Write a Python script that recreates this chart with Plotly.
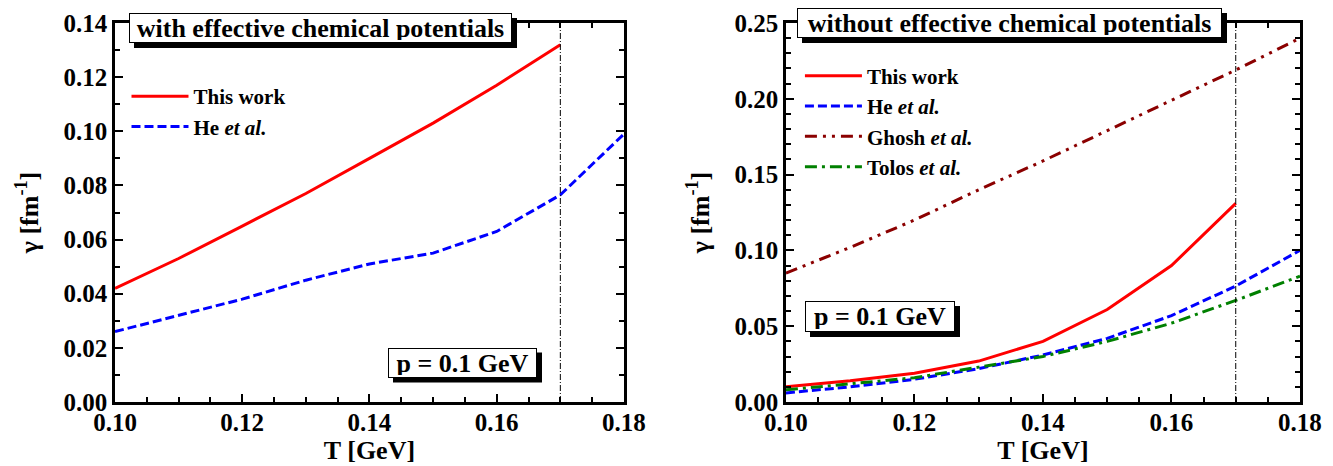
import plotly.graph_objects as go
from plotly.subplots import make_subplots

# ---------------- data ----------------
T_all = [0.10, 0.11, 0.12, 0.13, 0.14, 0.15, 0.16, 0.17, 0.18]
T_this = [0.10, 0.11, 0.12, 0.13, 0.14, 0.15, 0.16, 0.17]
T_C = 0.17

left_this = [0.042, 0.053, 0.065, 0.077, 0.090, 0.103, 0.117, 0.132]
left_he = [0.026, 0.032, 0.038, 0.045, 0.051, 0.055, 0.063, 0.0765, 0.099]

right_this = [0.010, 0.014, 0.019, 0.027, 0.040, 0.061, 0.090, 0.131]
right_he = [0.006, 0.010, 0.015, 0.022, 0.031, 0.042, 0.057, 0.0765, 0.100]
right_ghosh = [0.085, 0.102, 0.120, 0.140, 0.159, 0.179, 0.199, 0.219, 0.240]
right_tolos = [0.008, 0.012, 0.016, 0.023, 0.030, 0.040, 0.052, 0.067, 0.083]

left_title = "with effective chemical potentials"
right_title = "without effective chemical potentials"
p_label = "p = 0.1 GeV"

FONT = "Liberation Serif"
RED = "#ff0000"
BLUE = "#0000ff"
DARKRED = "#8b0000"
GREEN = "#008000"

# plot-area geometry (pixels) used to place the boxed labels
PLOT_L, PLOT_R, PLOT_T, PLOT_B = 115, 1300, 23, 402


def px_x(p):
    return (p - PLOT_L) / (PLOT_R - PLOT_L)


def px_y(p):
    return (PLOT_B - p) / (PLOT_B - PLOT_T)


fig = make_subplots(rows=1, cols=2)

# left panel
fig.add_trace(go.Scatter(x=T_this, y=left_this, mode="lines", name="<b>This work</b>",
                         line=dict(color=RED, width=3), legend="legend"), 1, 1)
fig.add_trace(go.Scatter(x=T_all, y=left_he, mode="lines", name="<b>He <i>et al.</i></b>",
                         line=dict(color=BLUE, width=3, dash="9px,4px"), legend="legend"), 1, 1)
fig.add_trace(go.Scatter(x=[T_C, T_C], y=[0, 0.14], mode="lines", showlegend=False,
                         line=dict(color="black", width=1, dash="6px,2px,1px,2px")), 1, 1)

# right panel
fig.add_trace(go.Scatter(x=T_this, y=right_this, mode="lines", name="<b>This work</b>",
                         line=dict(color=RED, width=3), legend="legend2"), 1, 2)
fig.add_trace(go.Scatter(x=T_all, y=right_he, mode="lines", name="<b>He <i>et al.</i></b>",
                         line=dict(color=BLUE, width=3, dash="9px,4px"), legend="legend2"), 1, 2)
fig.add_trace(go.Scatter(x=T_all, y=right_ghosh, mode="lines", name="<b>Ghosh <i>et al.</i></b>",
                         line=dict(color=DARKRED, width=3, dash="12px,6px,3px,6px,3px,6px"),
                         legend="legend2"), 1, 2)
fig.add_trace(go.Scatter(x=T_all, y=right_tolos, mode="lines", name="<b>Tolos <i>et al.</i></b>",
                         line=dict(color=GREEN, width=3, dash="12px,5px,3px,5px"),
                         legend="legend2"), 1, 2)
fig.add_trace(go.Scatter(x=[T_C, T_C], y=[0, 0.25], mode="lines", showlegend=False,
                         line=dict(color="black", width=1, dash="6px,2px,1px,2px")), 1, 2)

axis_common = dict(
    showline=True, linecolor="black", linewidth=2.5, mirror="allticks",
    ticks="inside", ticklen=8, tickwidth=2, tickcolor="black",
    showgrid=False, zeroline=False, tickformat=".2f",
    tickfont=dict(family=FONT, size=25, color="black", weight="bold"),
)

fig.update_xaxes(**axis_common, range=[0.10, 0.18], dtick=0.02, tick0=0.10, ticklabelstandoff=-4,
                 minor=dict(dtick=0.005, ticks="inside", ticklen=5, tickwidth=2, tickcolor="black"),
                 title=dict(text="<b>T [GeV]</b>", font=dict(family=FONT, size=26, color="black"), standoff=6))
fig.update_yaxes(**axis_common,
                 minor=dict(dtick=0.01, ticks="inside", ticklen=5, tickwidth=2, tickcolor="black"),
                 title=dict(text="<b>γ [fm<sup>-1</sup>]</b>", font=dict(family=FONT, size=26, color="black"), standoff=18))
fig.update_yaxes(range=[0, 0.14], dtick=0.02, tick0=0, row=1, col=1)
fig.update_yaxes(range=[0, 0.25], dtick=0.05, tick0=0, row=1, col=2)

fig.update_layout(
    xaxis=dict(domain=[0, 0.4295]),
    xaxis2=dict(domain=[0.5662, 1.0]),
    yaxis=dict(domain=[0, 1]),
    yaxis2=dict(domain=[0, 1]),
)

legend_common = dict(font=dict(family=FONT, size=21, color="black"), bgcolor="rgba(0,0,0,0)",
                     borderwidth=0, itemwidth=57, tracegroupgap=0, xanchor="left", yanchor="top")
fig.update_layout(
    legend=dict(**legend_common, x=0.0097, y=0.86, xref="paper", yref="paper"),
    legend2=dict(**legend_common, x=0.578, y=0.914, xref="paper", yref="paper"),
)

PAD, BORDER, SHADOW = 2, 1, 5


def boxed(cx, cy, text, size, w, h):
    # cx, cy: box centre in pixels; w, h: inner text-box size in pixels
    W = w + 2 * (PAD + BORDER)
    H = h + 2 * (PAD + BORDER)
    # drop shadow
    fig.add_shape(type="rect", xref="paper", yref="paper", layer="above",
                  x0=px_x(cx - W / 2 + SHADOW), x1=px_x(cx + W / 2 + SHADOW),
                  y0=px_y(cy + H / 2 + SHADOW), y1=px_y(cy - H / 2 + SHADOW),
                  fillcolor="black", line=dict(width=0))
    fig.add_annotation(x=px_x(cx), y=px_y(cy), xref="paper", yref="paper", text="<b>%s</b>" % text,
                       showarrow=False, xanchor="center", yanchor="middle",
                       width=w, height=h,
                       font=dict(family=FONT, size=size, color="black"),
                       bgcolor="white", bordercolor="black", borderwidth=BORDER, borderpad=PAD)


boxed(320.5, 28, left_title, 26, 377, 24)
boxed(1009.5, 23, right_title, 26, 419, 24)
boxed(462.5, 362.5, p_label, 26, 143, 24)
boxed(880, 316.5, p_label, 26, 144, 25)

fig.update_layout(
    width=1325, height=458,
    margin=dict(l=107, r=33, t=15, b=64, autoexpand=False),
    paper_bgcolor="white", plot_bgcolor="white",
    font=dict(family=FONT, color="black"),
    showlegend=True,
)

fig.write_html("out.html")
